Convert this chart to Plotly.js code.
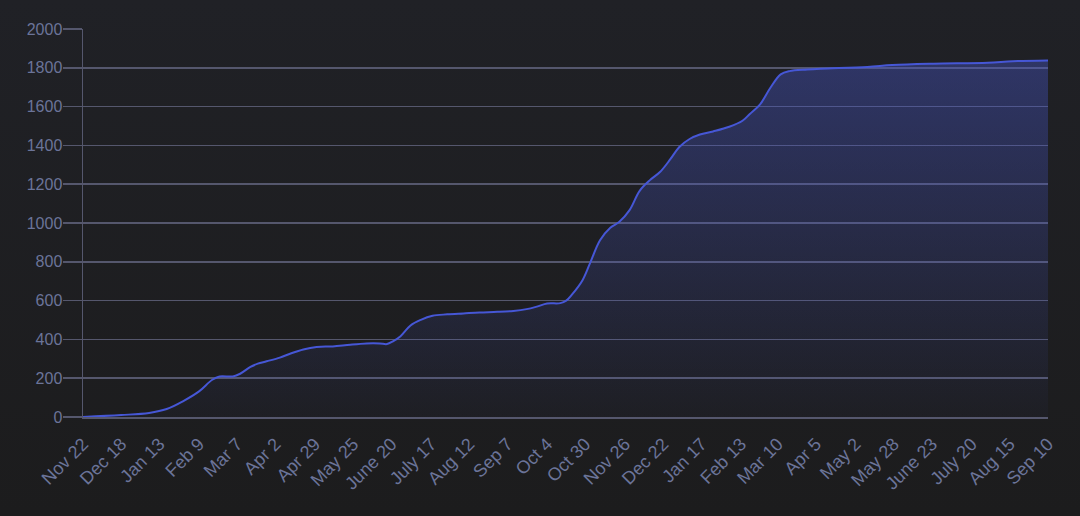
<!DOCTYPE html>
<html>
<head>
<meta charset="utf-8">
<script src="https://cdn.plot.ly/plotly-3.0.1.min.js"></script>
<style>
  html, body { margin: 0; padding: 0; width: 1080px; height: 516px; overflow: hidden;
    background: linear-gradient(to bottom, #202126 0%, #1c1c1d 100%); }
  #chart { width: 1080px; height: 516px; }
</style>
</head>
<body>
<div id="chart"></div>
<script>
// Dates and cumulative values
const dates = [
  "2020-11-22","2020-12-18","2021-01-06","2021-01-18","2021-01-29","2021-02-09","2021-02-18","2021-02-23",
  "2021-03-04","2021-03-09","2021-03-16","2021-03-21","2021-03-27","2021-04-05","2021-04-12","2021-04-21",
  "2021-04-30","2021-05-11","2021-05-23","2021-06-03","2021-06-12","2021-06-17","2021-06-21","2021-06-26",
  "2021-07-03","2021-07-10","2021-07-18","2021-07-28","2021-08-08","2021-08-19","2021-08-31","2021-09-11",
  "2021-09-20","2021-09-27","2021-10-04","2021-10-13","2021-10-17","2021-10-21","2021-10-28","2021-11-02",
  "2021-11-09","2021-11-16","2021-11-22","2021-11-29","2021-12-06","2021-12-13","2021-12-20","2021-12-27",
  "2022-01-02","2022-01-09","2022-01-16","2022-01-25","2022-02-05","2022-02-14","2022-02-19","2022-02-26",
  "2022-03-05","2022-03-12","2022-03-18","2022-03-30","2022-04-08","2022-05-10","2022-05-27","2022-06-24",
  "2022-07-31","2022-08-17","2022-09-10"
];
const values = [
  0, 10, 21, 41, 81, 132, 192, 209,
  209, 223, 258, 275, 287, 306, 326, 348,
  361, 364, 373, 379, 379, 376, 390, 415,
  472, 501, 522, 529, 534, 539, 542, 547,
  556, 569, 585, 587, 600, 632, 704, 789,
  911, 976, 1005, 1065, 1166, 1221, 1264, 1330,
  1392, 1433, 1456, 1472, 1496, 1527, 1562, 1612,
  1697, 1766, 1783, 1791, 1795, 1804, 1814, 1821,
  1826, 1834, 1838
];
const tickDates = [
  "2020-11-22","2020-12-18","2021-01-13","2021-02-09","2021-03-07","2021-04-02","2021-04-29","2021-05-25",
  "2021-06-20","2021-07-17","2021-08-12","2021-09-07","2021-10-04","2021-10-30","2021-11-26","2021-12-22",
  "2022-01-17","2022-02-13","2022-03-10","2022-04-05","2022-05-02","2022-05-28","2022-06-23","2022-07-20",
  "2022-08-15","2022-09-10"
];
const tickLabels = [
  "Nov 22","Dec 18","Jan 13","Feb 9","Mar 7","Apr 2","Apr 29","May 25",
  "June 20","July 17","Aug 12","Sep 7","Oct 4","Oct 30","Nov 26","Dec 22",
  "Jan 17","Feb 13","Mar 10","Apr 5","May 2","May 28","June 23","July 20",
  "Aug 15","Sep 10"
];
const yTicks = [0, 200, 400, 600, 800, 1000, 1200, 1400, 1600, 1800, 2000];

const gridColor = "#55576d";
const labelColor = "#6b7499";

const trace = {
  x: dates,
  y: values,
  type: "scatter",
  mode: "lines",
  line: { color: "#4657d6", width: 2, shape: "spline", smoothing: 1 },
  fill: "tozeroy",
  fillgradient: {
    type: "vertical",
    colorscale: [[0, "rgba(70,85,200,0.03)"], [1, "rgba(70,85,200,0.40)"]]
  },
  hoverinfo: "x+y"
};

const layout = {
  width: 1080,
  height: 516,
  margin: { l: 83, r: 32, t: 29, b: 99 },
  paper_bgcolor: "rgba(0,0,0,0)",
  plot_bgcolor: "rgba(0,0,0,0)",
  showlegend: false,
  font: { family: "Liberation Sans, Arial, sans-serif", color: labelColor, size: 16 },
  xaxis: {
    type: "date",
    range: ["2020-11-22", "2022-09-10"],
    tickmode: "array",
    tickvals: tickDates,
    ticktext: tickLabels,
    tickangle: -45,
    tickfont: { size: 18, color: labelColor },
    ticklabelstandoff: 8,
    showgrid: false,
    zeroline: false,
    showline: true,
    linecolor: gridColor,
    linewidth: 1.5,
    ticks: "",
    fixedrange: true
  },
  yaxis: {
    range: [0, 2000],
    tickmode: "array",
    tickvals: yTicks,
    ticktext: yTicks.map(String),
    tickfont: { size: 16, color: labelColor },
    showgrid: true,
    gridcolor: gridColor,
    gridwidth: 1.5,
    zeroline: false,
    showline: true,
    linecolor: gridColor,
    linewidth: 1.5,
    ticks: "outside",
    ticklen: 19,
    tickwidth: 1.5,
    tickcolor: gridColor,
    ticklabelstandoff: -3,
    fixedrange: true
  }
};

Plotly.newPlot("chart", [trace], layout, { displayModeBar: false, staticPlot: true });
</script>
</body>
</html>
